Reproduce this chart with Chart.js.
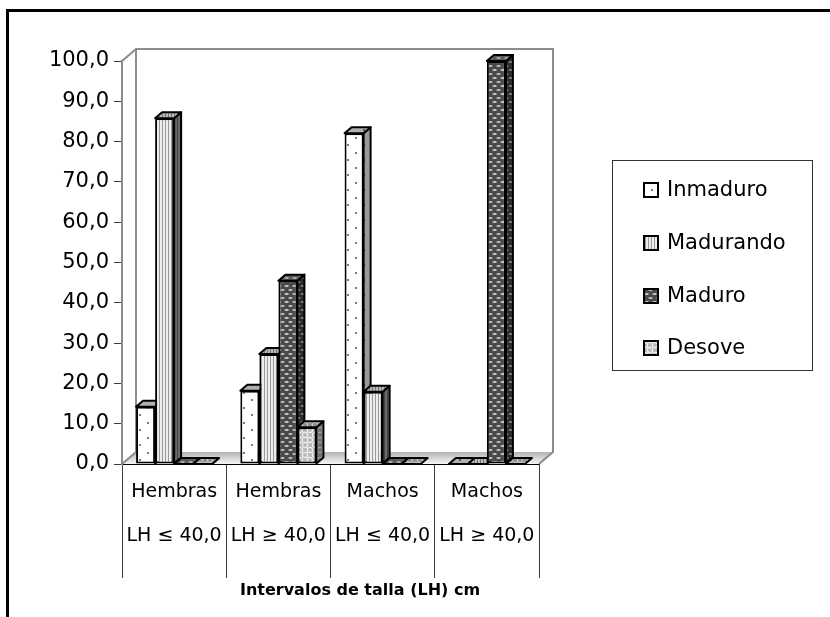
<!DOCTYPE html>
<html>
<head>
<meta charset="utf-8">
<script src="https://cdn.jsdelivr.net/npm/chart.js@4.4.1/dist/chart.umd.min.js"></script>
<style>
  html, body { margin: 0; padding: 0; background: #fff; }
  #wrap { width: 830px; height: 617px; }
</style>
</head>
<body>
<div id="wrap"><canvas id="grafico" width="830" height="617"></canvas></div>
<script>
// --- DATOS ---
const categorias = [
    ['Hembras', 'LH \u2264 40,0'],
    ['Hembras', 'LH \u2265 40,0'],
    ['Machos', 'LH \u2264 40,0'],
    ['Machos', 'LH \u2265 40,0']
];
const inmaduro   = [14.2, 18.2, 82.1, 0];
const madurando  = [85.8, 27.3, 17.9, 0];
const maduro     = [0, 45.5, 0, 100];
const desove     = [0, 9.1, 0, 0];
const etiquetasSeries = ['Inmaduro', 'Madurando', 'Maduro', 'Desove'];
const tituloEjeX = 'Intervalos de talla (LH) cm';

// --- TRAMAS (patrones en blanco y negro) ---
function makePattern(w, h, bg, paint) {
    const c = document.createElement('canvas');
    c.width = w; c.height = h;
    const g = c.getContext('2d');
    g.fillStyle = bg;
    g.fillRect(0, 0, w, h);
    if (paint) paint(g);
    return g.createPattern(c, 'repeat');
}

function dots(color) {
    return g => { g.fillStyle = color; g.fillRect(3, 2, 2, 2); g.fillRect(11, 9, 2, 2); };
}
function stripes(color) {
    return g => { g.fillStyle = color; g.fillRect(0, 0, 1, 1); };
}
function ovals(color) {
    return g => {
        g.fillStyle = color;
        [[2.5, 2], [6.5, 6], [-1.5, 6], [10.5, 6]].forEach(p => {
            g.beginPath();
            g.ellipse(p[0], p[1], 2.2, 1.1, 0, 0, Math.PI * 2);
            g.fill();
        });
    };
}
function rings(color) {
    return g => {
        g.strokeStyle = color;
        g.lineWidth = 1.2;
        [[5, 5], [0, 0], [10, 0], [0, 10], [10, 10]].forEach(p => {
            g.beginPath();
            g.arc(p[0], p[1], 2.6, 0, Math.PI * 2);
            g.stroke();
        });
    };
}

const tramas = [
    { front: makePattern(16, 15, '#ffffff', dots('#7a7a7a')),
      side:  makePattern(16, 15, '#9a9a9a', dots('#333333')),
      top:   makePattern(16, 15, '#b0b0b0', dots('#555555')) },
    { front: makePattern(3, 1, '#ededed', stripes('#9a9a9a')),
      side:  makePattern(3, 1, '#6a6a6a', stripes('#444444')),
      top:   makePattern(3, 1, '#b8b8b8', stripes('#777777')) },
    { front: makePattern(8, 8, '#4a4a4a', ovals('#c4c4c4')),
      side:  makePattern(8, 8, '#2c2c2c', ovals('#7a7a7a')),
      top:   makePattern(8, 8, '#5c5c5c', ovals('#aaaaaa')) },
    { front: makePattern(10, 10, '#b8b8b8', rings('#f0f0f0')),
      side:  makePattern(10, 10, '#6e6e6e', rings('#a0a0a0')),
      top:   makePattern(10, 10, '#8e8e8e', rings('#c8c8c8')) }
];

// profundidad del efecto 3D
const PARED_DX = 14, PARED_DY = 12;
const BARRA_DX = 7, BARRA_DY = 6;

// --- PLUGIN: marco, paredes 3D y caras laterales ---
const efecto3D = {
    id: 'efecto3D',
    beforeDraw(chart) {
        const ctx = chart.ctx;
        ctx.save();
        ctx.strokeStyle = '#000';
        ctx.lineWidth = 3;
        ctx.beginPath();
        ctx.moveTo(7.5, 617);
        ctx.lineTo(7.5, 10.5);
        ctx.lineTo(830, 10.5);
        ctx.stroke();
        ctx.restore();
    },
    beforeDatasetsDraw(chart) {
        const ctx = chart.ctx;
        const a = chart.chartArea;
        const bx = a.left + PARED_DX, by = a.bottom - PARED_DY;
        const tx = a.right + PARED_DX, ty = a.top - PARED_DY;
        ctx.save();
        // suelo
        const grad = ctx.createLinearGradient(0, by, 0, a.bottom);
        grad.addColorStop(0, '#b4b4b4');
        grad.addColorStop(1, '#f6f6f6');
        ctx.fillStyle = grad;
        ctx.beginPath();
        ctx.moveTo(a.left, a.bottom);
        ctx.lineTo(bx, by);
        ctx.lineTo(tx, by);
        ctx.lineTo(a.right, a.bottom);
        ctx.closePath();
        ctx.fill();
        // pared del fondo
        ctx.strokeStyle = '#8c8c8c';
        ctx.lineWidth = 2;
        ctx.beginPath();
        ctx.moveTo(a.left, a.top);
        ctx.lineTo(bx, ty);
        ctx.lineTo(tx, ty);
        ctx.lineTo(tx, by);
        ctx.lineTo(a.right, a.bottom);
        ctx.moveTo(bx, ty);
        ctx.lineTo(bx, by);
        ctx.lineTo(a.left, a.bottom);
        ctx.stroke();

        // caras laterales y superiores de las barras
        ctx.strokeStyle = '#000';
        ctx.lineWidth = 2;
        ctx.lineJoin = 'round';
        const n = chart.data.labels.length;
        for (let j = 0; j < n; j++) {
            chart.data.datasets.forEach((ds, i) => {
                const bar = chart.getDatasetMeta(i).data[j];
                const l = bar.x - bar.width / 2, r = bar.x + bar.width / 2;
                const top = bar.y, base = bar.base;
                if (base - top > 0.5) {
                    ctx.fillStyle = tramas[i].side;
                    ctx.beginPath();
                    ctx.moveTo(r, top);
                    ctx.lineTo(r + BARRA_DX, top - BARRA_DY);
                    ctx.lineTo(r + BARRA_DX, base - BARRA_DY);
                    ctx.lineTo(r, base);
                    ctx.closePath();
                    ctx.fill();
                    ctx.stroke();
                }
                ctx.fillStyle = tramas[i].top;
                ctx.beginPath();
                ctx.moveTo(l, top);
                ctx.lineTo(l + BARRA_DX, top - BARRA_DY);
                ctx.lineTo(r + BARRA_DX, top - BARRA_DY);
                ctx.lineTo(r, top);
                ctx.closePath();
                ctx.fill();
                ctx.stroke();
            });
        }
        ctx.restore();
    },
    afterDraw(chart) {
        const ctx = chart.ctx;
        ctx.save();
        // titulo del eje X
        ctx.fillStyle = '#000';
        ctx.font = 'bold 16px "DejaVu Sans"';
        ctx.textAlign = 'center';
        ctx.textBaseline = 'middle';
        ctx.fillText(tituloEjeX, 360, 591);

        // leyenda con marco
        ctx.strokeStyle = '#333';
        ctx.lineWidth = 1;
        ctx.strokeRect(612.5, 160.5, 200, 210);
        ctx.font = '21px "DejaVu Sans"';
        ctx.textAlign = 'left';
        const filas = [190, 243, 296, 348];
        chart.data.datasets.forEach((ds, i) => {
            const cy = filas[i];
            ctx.fillStyle = tramas[i].front;
            ctx.fillRect(644, cy - 7, 14, 14);
            ctx.lineWidth = 2;
            ctx.strokeStyle = '#000';
            ctx.strokeRect(644, cy - 7, 14, 14);
            ctx.fillStyle = '#000';
            ctx.fillText(ds.label, 667, cy + 1);
        });
        ctx.restore();
    }
};

Chart.defaults.font.family = '"DejaVu Sans", sans-serif';
Chart.defaults.color = '#000';

const series = [inmaduro, madurando, maduro, desove];

new Chart(document.getElementById('grafico'), {
    type: 'bar',
    data: {
        labels: categorias,
        datasets: series.map((valores, i) => ({
            label: etiquetasSeries[i],
            data: valores,
            backgroundColor: tramas[i].front,
            borderColor: '#000',
            borderWidth: 2,
            borderSkipped: false,
            categoryPercentage: 0.73,
            barPercentage: 1.0
        }))
    },
    options: {
        responsive: false,
        animation: false,
        layout: { padding: { left: 0, right: 291, top: 61, bottom: 0 } },
        plugins: {
            legend: { display: false },
            tooltip: { enabled: false }
        },
        scales: {
            x: {
                afterFit: scale => { scale.height = 153; },
                border: { display: true, color: '#000', width: 1 },
                grid: {
                    drawOnChartArea: false,
                    drawTicks: true,
                    tickLength: 114,
                    color: '#3c3c3c',
                    lineWidth: 1
                },
                ticks: {
                    padding: -108,
                    maxRotation: 0,
                    autoSkip: false,
                    font: { size: 19, lineHeight: '44px' },
                    color: '#000'
                }
            },
            y: {
                min: 0,
                max: 100,
                afterFit: scale => { scale.width = 122; },
                border: { display: true, color: '#8c8c8c', width: 2 },
                grid: {
                    drawOnChartArea: false,
                    tickLength: 8,
                    color: '#3c3c3c'
                },
                ticks: {
                    stepSize: 10,
                    padding: 5,
                    font: { size: 21 },
                    color: '#000',
                    callback: v => v.toFixed(1).replace('.', ',')
                }
            }
        }
    },
    plugins: [efecto3D]
});
</script>
</body>
</html>
